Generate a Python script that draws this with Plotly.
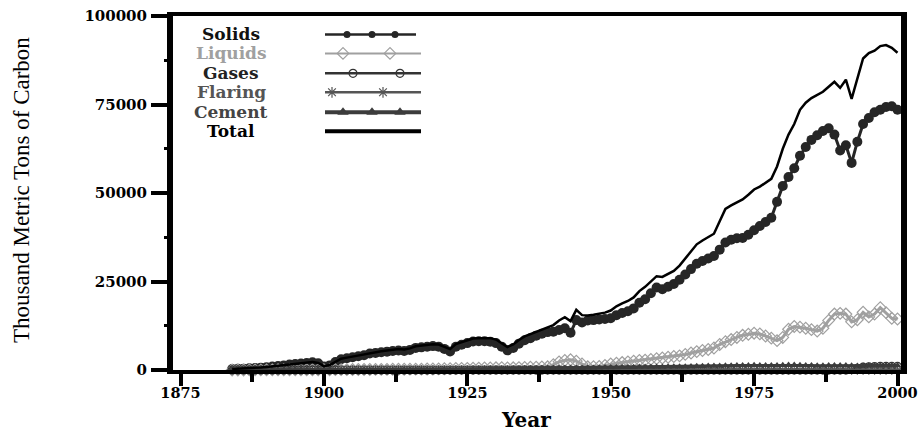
import plotly.graph_objects as go

years = list(range(1884, 2001))

total = [
    300, 350, 400, 500, 600, 700,                                   # 1884-1889
    850, 1000, 1150, 1350, 1600, 1750, 1900, 2050, 2250, 2000,      # 1890s
    1100, 1400, 2400, 3200, 3500, 3800, 4100, 4400, 4900, 5100,     # 1900s
    5300, 5500, 5700, 5900, 5800, 6100, 6700, 6900, 7100, 7300,     # 1910s
    7200, 6600, 5900, 7300, 7900, 8400, 8900, 9000, 9100, 9000,     # 1920s
    8600, 7600, 6500, 7200, 8500, 9500, 10100, 10900, 11500, 12000, # 1930s
    12700, 14000, 14900, 13800, 17000, 15500, 15400, 15600, 15800, 16200,  # 1940s
    16800, 18000, 18800, 19500, 20500, 22300, 23500, 25000, 26500, 26300,  # 1950s
    27200, 28000, 29500, 31500, 33500, 35500, 36600, 37500, 38500, 42000,  # 1960s
    45500, 46500, 47300, 48200, 49500, 51000, 51800, 53000, 54000, 57500,  # 1970s
    62500, 66500, 69500, 73500, 75500, 76800, 77700, 78600, 80000, 81400,  # 1980s
    79700, 82000, 76600, 82500, 88000, 89500, 90200, 91500, 91800, 91000,  # 1990s
    89600,                                                          # 2000
]

solids = [
    280, 330, 380, 470, 570, 670,
    810, 960, 1100, 1300, 1550, 1700, 1840, 1990, 2180, 1930,
    1020, 1300, 2280, 3060, 3340, 3620, 3900, 4180, 4650, 4830,
    5000, 5180, 5350, 5520, 5400, 5680, 6250, 6400, 6580, 6750,
    6600, 5960, 5230, 6580, 7150, 7600, 8050, 8100, 8150, 8000,
    7600, 6600, 5550, 6200, 7450, 8400, 8950, 9700, 10250, 10700,
    10800, 11300, 11800, 10500, 14100, 13400, 14000, 14100, 14300, 14400,
    14600, 15500, 16100, 16600, 17400, 19000, 20000, 21700, 23300, 22800,
    23500, 24300, 25500, 27000, 28500, 30000, 30800, 31500, 32200, 34000,
    36000, 36800, 37200, 37300, 38200, 39500, 40700, 41800, 43000, 47500,
    52000, 54500, 57000, 60500, 63000, 65000, 66300, 67500, 68300, 66500,
    62000, 63500, 58500, 64500, 69500, 71200, 72800, 73500, 74300, 74500,
    73500,
]

liquids = [
    20, 20, 20, 30, 30, 30,
    40, 40, 50, 50, 50, 50, 60, 60, 70, 70,
    80, 90, 100, 110, 120, 130, 140, 150, 160, 170,
    180, 190, 200, 220, 230, 240, 250, 260, 270, 280,
    320, 350, 380, 410, 440, 470, 500, 530, 570, 600,
    620, 650, 600, 620, 680, 720, 780, 820, 860, 900,
    1500, 2300, 2700, 2900, 2500, 1700, 900, 950, 1000, 1300,
    1700, 1900, 2100, 2300, 2500, 2700, 2800, 3000, 3200, 3400,
    3600, 3800, 4000, 4400, 4800, 5200, 5500, 5800, 6200, 7200,
    8000, 8600, 9200, 9800, 10100, 10400, 10200, 9600, 9000, 8300,
    9200, 11500, 12300, 12100, 11800, 11400, 11000, 11800, 14000, 15800,
    16000, 15800, 13600, 14200, 16300, 15000, 15800, 17600, 16200, 14600,
    14400,
]

gases = [
    0, 0, 0, 0, 0, 0,
    0, 0, 0, 0, 0, 0, 0, 0, 0, 0,
    0, 0, 0, 0, 0, 0, 0, 0, 0, 0,
    0, 0, 0, 0, 0, 0, 0, 0, 0, 0,
    0, 0, 0, 0, 0, 0, 0, 0, 0, 0,
    0, 0, 0, 0, 0, 0, 0, 0, 0, 0,
    0, 0, 0, 0, 0, 0, 0, 0, 0, 0,
    0, 0, 0, 0, 0, 0, 0, 0, 0, 0,
    0, 0, 0, 0, 0, 0, 0, 0, 0, 0,
    0, 0, 0, 0, 0, 0, 0, 0, 0, 0,
    0, 0, 0, 0, 0, 0, 0, 0, 0, 0,
    0, 0, 200, 500, 800, 900, 950, 1000, 1000, 1000,
    1000,
]

flaring = [
    0, 0, 0, 0, 0, 0,
    0, 0, 0, 0, 0, 0, 0, 0, 0, 0,
    0, 0, 0, 0, 0, 0, 0, 0, 0, 0,
    0, 0, 0, 0, 0, 0, 0, 0, 0, 0,
    0, 0, 0, 0, 0, 0, 0, 0, 0, 0,
    0, 0, 0, 0, 0, 0, 0, 0, 0, 0,
    0, 0, 0, 0, 0, 0, 0, 0, 0, 0,
    0, 0, 0, 0, 0, 0, 0, 0, 0, 0,
    0, 0, 0, 0, 0, 0, 0, 0, 0, 0,
    0, 0, 0, 0, 0, 0, 0, 0, 0, 0,
    0, 0, 0, 0, 0, 0, 0, 0, 0, 0,
    0, 0, 0, 0, 0, 0, 0, 0, 0, 0,
    0,
]

cement = [
    0, 0, 0, 0, 0, 0,
    0, 0, 0, 0, 0, 0, 10, 10, 10, 10,
    10, 20, 25, 30, 35, 40, 45, 50, 55, 60,
    70, 80, 90, 100, 110, 120, 130, 140, 150, 160,
    170, 180, 190, 200, 220, 240, 260, 280, 300, 320,
    330, 300, 280, 320, 360, 400, 430, 450, 470, 490,
    500, 510, 520, 500, 500, 520, 560, 600, 640, 680,
    720, 740, 760, 780, 800, 820, 840, 860, 870, 880,
    890, 900, 920, 950, 990, 1030, 1070, 1100, 1130, 1160,
    1200, 1230, 1260, 1290, 1300, 1310, 1280, 1250, 1240, 1270,
    1320, 1380, 1400, 1350, 1300, 1250, 1200, 1200, 1250, 1300,
    1300, 1250, 1200, 1150, 1200, 1250, 1300, 1300, 1250, 1250,
    1300,
]

x_tick_vals = [1875, 1900, 1925, 1950, 1975, 2000]
y_tick_vals = [0, 25000, 50000, 75000, 100000]
legend_labels = ["Solids", "Liquids", "Gases", "Flaring", "Cement", "Total"]

SERIF_WIDE = "DejaVu Serif"
# The page's default body margin is removed after plotting (post_script), so the
# figure fills the 918x434 window and reference pixel positions map 1:1.
OFF = 0
W, H = 918, 434
ML, MR, MT, MB = 173, 17, 15.5, 63.5


def paper_x(px):
    return (px - OFF - ML) / (W - ML - MR)


def paper_y(py):
    return (H - MB - (py - OFF)) / (H - MT - MB)


styles = {
    "Solids": dict(color="#262626", lw=3, symbol="circle", msize=10, mlw=0),
    "Liquids": dict(color="#a0a0a0", lw=3, symbol="diamond-open", msize=9, mlw=1.2),
    "Gases": dict(color="#333333", lw=2, symbol="circle-open", msize=8, mlw=1.2),
    "Flaring": dict(color="#555555", lw=2, symbol="asterisk-open", msize=8, mlw=1.2),
    "Cement": dict(color="#3c3c3c", lw=3, symbol="triangle-up", msize=7, mlw=0),
}
series = {"Solids": solids, "Liquids": liquids, "Gases": gases,
          "Flaring": flaring, "Cement": cement}

fig = go.Figure()
for name, vals in series.items():
    s = styles[name]
    fig.add_trace(go.Scatter(
        x=years, y=vals, mode="lines+markers", name=name,
        line=dict(color=s["color"], width=s["lw"]),
        marker=dict(symbol=s["symbol"], size=s["msize"], color=s["color"],
                    line=dict(color=s["color"], width=s["mlw"])),
        showlegend=False, cliponaxis=False))
fig.add_trace(go.Scatter(x=years, y=total, mode="lines", name="Total",
                         line=dict(color="black", width=2.5),
                         showlegend=False, cliponaxis=False))

# ---- custom legend (text left, sample right), in reference-pixel overlay ----
leg_y = [34, 53, 73, 92, 112, 131]
leg_text_color = ["#111111", "#a0a0a0", "#222222", "#555555", "#444444", "#000000"]
leg_marker_x = {
    "Solids": [347, 372, 395],
    "Liquids": [343, 390],
    "Gases": [353, 400],
    "Flaring": [332, 383],
    "Cement": [343, 372, 400],
    "Total": [],
}
leg_marker_size = {"Solids": 7, "Liquids": 9, "Gases": 8, "Flaring": 9, "Cement": 10}
for i, name in enumerate(legend_labels):
    yy = leg_y[i]
    x_end = 416 if name == "Solids" else 421
    if name == "Total":
        line = dict(color="black", width=4)
    elif name == "Cement":
        line = dict(color=styles[name]["color"], width=4)
    else:
        s = styles[name]
        line = dict(color=s["color"], width=2.5 if name != "Liquids" else 2)
    fig.add_trace(go.Scatter(x=[325, x_end], y=[yy, yy], mode="lines", line=line,
                             xaxis="x2", yaxis="y2", showlegend=False, hoverinfo="skip"))
    if leg_marker_x[name]:
        s = styles[name]
        fig.add_trace(go.Scatter(
            x=leg_marker_x[name], y=[yy] * len(leg_marker_x[name]), mode="markers",
            marker=dict(symbol=s["symbol"], size=leg_marker_size[name], color=s["color"],
                        line=dict(color=s["color"], width=s["mlw"])),
            xaxis="x2", yaxis="y2", showlegend=False, hoverinfo="skip"))
    fig.add_annotation(x=paper_x(231), y=paper_y(yy), xref="paper", yref="paper",
                       text=name, showarrow=False,
                       xanchor="center", yanchor="middle",
                       font=dict(family=SERIF_WIDE, size=17, color=leg_text_color[i],
                                 weight="bold"))

# axis titles
fig.add_annotation(x=paper_x(21), y=paper_y(190), xref="paper", yref="paper",
                   text="Thousand Metric Tons of Carbon",
                   textangle=-90, showarrow=False, xanchor="center", yanchor="middle",
                   font=dict(family="Liberation Serif", size=23, color="black"))
fig.add_annotation(x=paper_x(526), y=paper_y(421), xref="paper", yref="paper",
                   text="Year", showarrow=False,
                   xanchor="center", yanchor="middle",
                   font=dict(family=SERIF_WIDE, size=20, color="black", weight="bold"))

x_tickfont = dict(family=SERIF_WIDE, size=14.5, color="black", weight="bold")
y_tickfont = dict(family=SERIF_WIDE, size=15, color="black", weight="bold")

fig.update_layout(
    width=W, height=H,
    margin=dict(l=ML, r=MR, t=MT, b=MB, autoexpand=False),
    paper_bgcolor="white", plot_bgcolor="white",
    xaxis=dict(range=[1873.69, 2000.61], tickvals=x_tick_vals,
               ticktext=[str(v) for v in x_tick_vals],
               ticks="outside", ticklen=12, tickwidth=4, tickcolor="black",
               minor=dict(tickvals=[1887.5, 1912.5, 1937.5, 1962.5, 1987.5],
                          ticks="outside", ticklen=8, tickwidth=4, tickcolor="black"),
               showline=True, linewidth=4, linecolor="black", mirror=True,
               showgrid=False, zeroline=False, tickfont=x_tickfont,
               automargin=False, ticklabelstandoff=-5, ticklabeloverflow="allow"),
    yaxis=dict(range=[0, 100000], tickvals=y_tick_vals,
               ticktext=[str(v) for v in y_tick_vals],
               ticks="outside", ticklen=16, tickwidth=3.5, tickcolor="black",
               minor=dict(tickvals=[12500, 37500, 62500, 87500],
                          ticks="outside", ticklen=3, tickwidth=3, tickcolor="black"),
               showline=True, linewidth=6, linecolor="black", mirror=True,
               showgrid=False, zeroline=False, tickfont=y_tickfont,
               automargin=False, ticklabelstandoff=1, ticklabeloverflow="allow"),
    xaxis2=dict(overlaying="x", range=[173, 901], visible=False, anchor="y2",
                fixedrange=True),
    yaxis2=dict(overlaying="y", range=[370.5, 15.5], visible=False, anchor="x2",
                fixedrange=True),
)

fig.write_html(
    "out.html",
    config={"displayModeBar": False},
    post_script="document.body.style.margin='0px';document.body.style.overflow='hidden';",
)
